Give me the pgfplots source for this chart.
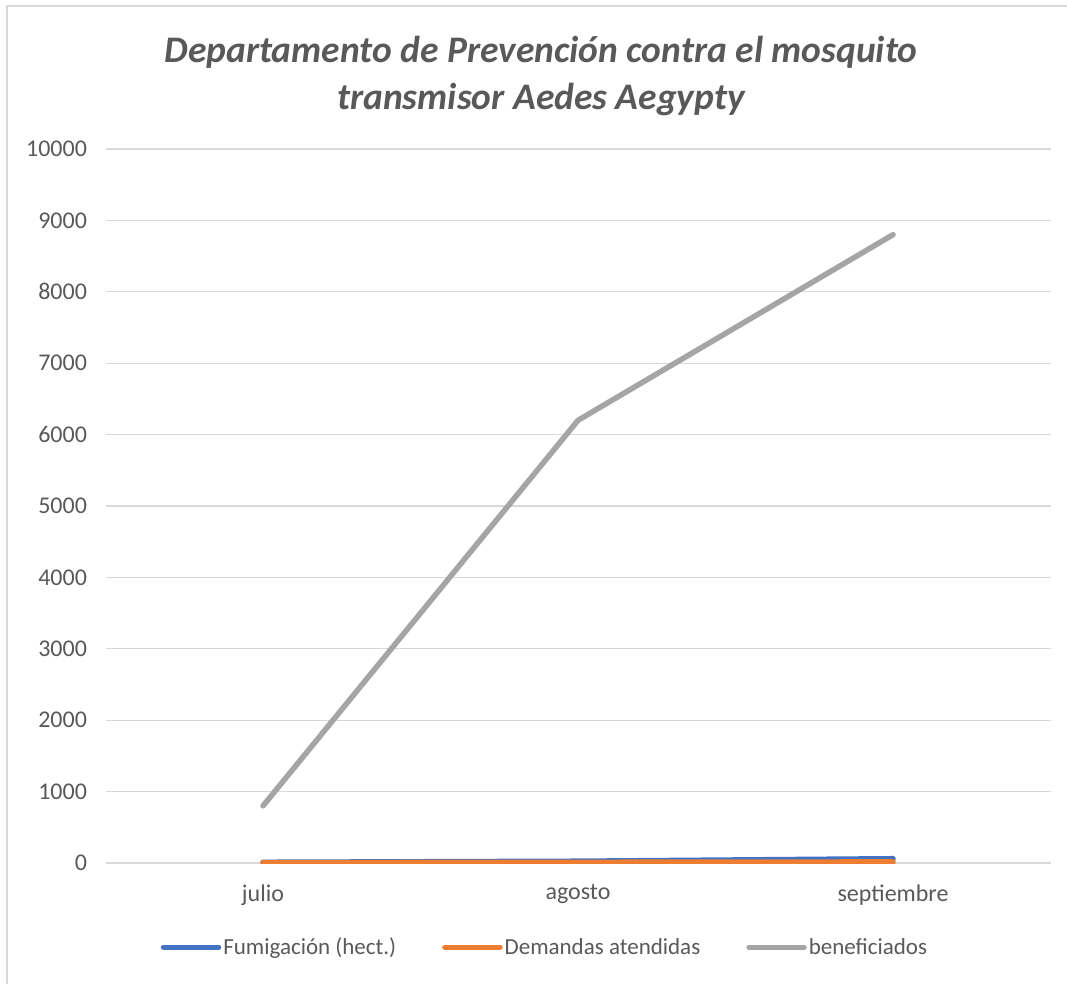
\documentclass[border=0pt]{standalone}
\usepackage{pgfplots}
\pgfplotsset{compat=1.18}
\usepackage{fontspec}
\setmainfont{Carlito}
\definecolor{cblue}{HTML}{4472C4}
\definecolor{corange}{HTML}{ED7D31}
\definecolor{cgray}{HTML}{A5A5A5}
\definecolor{cgrid}{HTML}{D9D9D9}
\definecolor{ctext}{HTML}{595959}
\begin{document}
\begin{tikzpicture}
\useasboundingbox (0pt,0pt) rectangle (1067pt,-984pt);
\begin{scope}
\clip (0pt,0pt) rectangle (1067pt,-984pt);
\draw[cgrid, line width=2pt] (7pt,-6pt) rectangle (1080pt,-1000pt);
\end{scope}
\node[text=ctext, font=\fontsize{37.5}{47}\selectfont\bfseries\itshape, align=center]
  at (541pt,-76pt) {Departamento de Prevención contra el mosquito\\transmisor Aedes Aegypty};
\begin{axis}[
    at={(105.5pt,-863pt)}, anchor=south west,
    scale only axis,
    width=945pt, height=714pt,
    xmin=-0.5, xmax=2.5,
    ymin=0, ymax=10000,
    xtick={0,1,2},
    xticklabels={julio,agosto,septiembre},
    ytick={0,1000,...,10000},
    scaled y ticks=false,
    major tick length=0pt,
    axis line style={draw=none},
    ymajorgrids=true,
    grid style={cgrid, line width=1.3pt},
    tick label style={text=ctext, font=\fontsize{24}{28}\selectfont},
    /pgf/number format/assume math mode=true,
    /pgf/number format/1000 sep={},
    yticklabel style={xshift=-15pt},
    xticklabel style={yshift=-18pt},
    legend columns=3,
    legend style={at={(0.465,-0.118)}, anchor=center, draw=none, fill=none,
        font=\fontsize{23}{27}\selectfont, text=ctext,
        /tikz/every even column/.append style={column sep=44pt}},
    legend image code/.code={\draw[#1, line width=5.5pt] (0pt,0pt) -- (55pt,0pt);},
]
\addplot[cblue, line width=5.5pt, line cap=round] coordinates {(0,10) (1,25) (2,60)};
\addlegendentry{Fumigación (hect.)}
\addplot[corange, line width=5.5pt, line cap=round] coordinates {(0,5) (1,10) (2,15)};
\addlegendentry{Demandas atendidas}
\addplot[cgray, line width=5.5pt, line cap=round, line join=round] coordinates {(0,800) (1,6200) (2,8800)};
\addlegendentry{beneficiados}
\end{axis}
\end{tikzpicture}
\end{document}
